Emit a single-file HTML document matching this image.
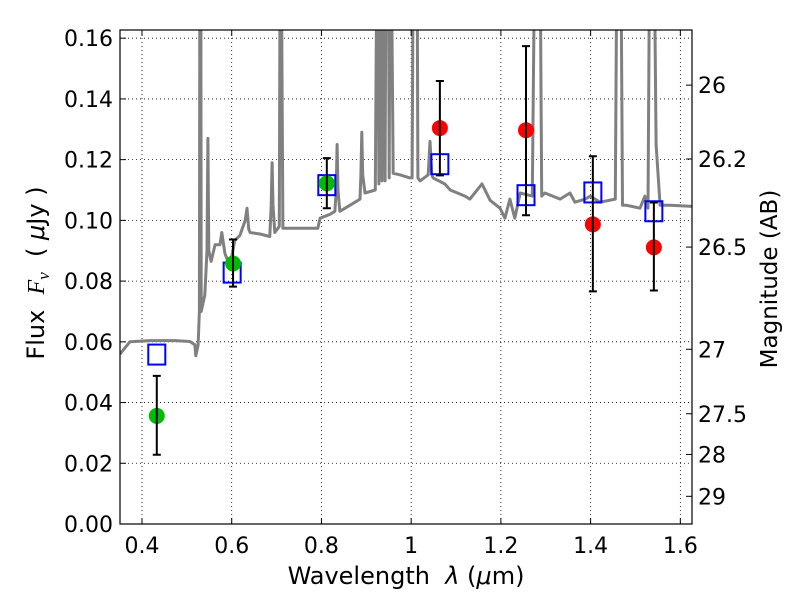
<!DOCTYPE html>
<html><head><meta charset="utf-8"><style>
body{margin:0;background:#fff;}
svg{display:block;font-family:"DejaVu Sans","Liberation Sans",sans-serif;}
</style></head><body>
<svg id="chart" width="800" height="600" xmlns="http://www.w3.org/2000/svg">
<rect width="800" height="600" fill="#fff"/>
<defs><clipPath id="clip"><rect x="120" y="30" width="572" height="494"/></clipPath></defs>
<g id="grid"></g>
<g id="spec" clip-path="url(#clip)"></g>
<g id="marks" clip-path="url(#clip)"></g>
<rect x="120" y="30" width="572" height="494" fill="none" stroke="#000" stroke-width="1.2"/>
<g id="axes"></g>
<text x="406" y="584" font-size="24" text-anchor="middle">Wavelength&#160;&#160;<tspan font-style="italic">λ</tspan> (<tspan font-style="italic">μ</tspan>m)</text>
<text transform="translate(44,273) rotate(-90)" font-size="24" text-anchor="middle">Flux&#160;&#160;<tspan font-family="Liberation Serif" font-style="italic">F</tspan><tspan font-family="Liberation Serif" font-style="italic" font-size="17" dy="5">ν</tspan><tspan dy="-5">&#160;&#160;( </tspan><tspan font-style="italic">μ</tspan>Jy )</text>
<text transform="translate(777,279) rotate(-90)" font-size="23" text-anchor="middle">Magnitude (AB)</text>
</svg>
<script>
const specLam=[0.351,0.373,0.418,0.474,0.507,0.518,0.520,0.525,0.528,0.529,0.531,0.532,0.540,0.545,0.547,0.549,0.554,0.563,0.574,0.578,0.585,0.596,0.607,0.618,0.630,0.634,0.638,0.641,0.663,0.685,0.688,0.690,0.692,0.696,0.706,0.708,0.710,0.714,0.752,0.792,0.797,0.819,0.830,0.833,0.835,0.837,0.841,0.864,0.886,0.888,0.890,0.892,0.897,0.920,0.924,0.926,0.928,0.931,0.933,0.935,0.937,0.940,0.942,0.944,0.949,0.951,0.953,0.955,0.960,0.975,0.997,1.002,1.005,1.009,1.013,1.015,1.020,1.038,1.042,1.046,1.049,1.075,1.087,1.120,1.131,1.158,1.176,1.198,1.209,1.220,1.231,1.243,1.270,1.276,1.281,1.287,1.291,1.298,1.332,1.354,1.365,1.388,1.399,1.421,1.455,1.459,1.463,1.467,1.471,1.479,1.510,1.521,1.528,1.532,1.536,1.541,1.546,1.550,1.555,1.577,1.626];
const specFlux=[0.056,0.060,0.0604,0.0604,0.0601,0.059,0.0554,0.059,0.07,0.2,0.2,0.07,0.0754,0.09,0.127,0.09,0.0865,0.092,0.092,0.096,0.089,0.085,0.0934,0.095,0.100,0.104,0.097,0.096,0.0955,0.0947,0.105,0.119,0.105,0.096,0.098,0.2,0.2,0.0974,0.0974,0.0974,0.1007,0.102,0.103,0.110,0.125,0.110,0.103,0.105,0.107,0.115,0.129,0.115,0.109,0.110,0.2,0.2,0.112,0.2,0.2,0.113,0.2,0.2,0.113,0.2,0.2,0.114,0.2,0.2,0.1155,0.115,0.114,0.114,0.2,0.2,0.2,0.114,0.113,0.115,0.126,0.115,0.114,0.112,0.110,0.108,0.107,0.112,0.1066,0.104,0.1007,0.107,0.1007,0.109,0.108,0.2,0.2,0.2,0.108,0.109,0.107,0.109,0.106,0.107,0.108,0.106,0.107,0.2,0.2,0.2,0.105,0.105,0.104,0.108,0.104,0.2,0.2,0.2,0.125,0.116,0.105,0.105,0.1046];
const modelLam=[0.433,0.601,0.812,1.064,1.256,1.405,1.541];
const modelFlux=[0.0558,0.0828,0.1116,0.1185,0.1083,0.1092,0.103];
const greenLam=[0.433,0.603,0.812];
const greenFlux=[0.0356,0.0858,0.1122];
const greenHi=[0.0488,0.0937,0.1205];
const greenLo=[0.0228,0.0782,0.104];
const redLam=[1.064,1.256,1.405,1.541];
const redFlux=[0.1304,0.1297,0.0987,0.0911];
const redHi=[0.1459,0.1574,0.1211,0.1059];
const redLo=[0.1148,0.1017,0.0766,0.0769];
const xTicks=[0.4,0.6,0.8,1.0,1.2,1.4,1.6];
const xTickLabels=["0.4","0.6","0.8","1","1.2","1.4","1.6"];
const yTicks=[0,0.02,0.04,0.06,0.08,0.10,0.12,0.14,0.16];
const yTickLabels=["0.00","0.02","0.04","0.06","0.08","0.10","0.12","0.14","0.16"];
const magTicks=[26,26.2,26.5,27,27.5,28,29];
const magTickLabels=["26","26.2","26.5","27","27.5","28","29"];

const X0=120,X1=692,Y0=524,Y1=30,LMIN=0.351,LMAX=1.626,FMIN=0,FMAX=0.1627;
const xs=l=>X0+(l-LMIN)/(LMAX-LMIN)*(X1-X0);
const ys=f=>Y0-(f-FMIN)/(FMAX-FMIN)*(Y0-Y1);
const magToFlux=m=>Math.pow(10,-0.4*(m-23.9));
const NS='http://www.w3.org/2000/svg';
function mk(tag,attrs,parent){const e=document.createElementNS(NS,tag);for(const k in attrs)e.setAttribute(k,attrs[k]);parent.appendChild(e);return e;}
const grid=document.getElementById('grid'),axes=document.getElementById('axes'),spec=document.getElementById('spec'),marks=document.getElementById('marks');

xTicks.forEach((t,i)=>{const x=xs(t);
 let g=mk('line',{x1:x,x2:x,y1:Y1,y2:Y0,stroke:'#000','stroke-width':0.8,'stroke-dasharray':'1,3'},grid);
 
 let a=mk('line',{x1:x,x2:x,y1:Y0,y2:Y0-6,stroke:'#000','stroke-width':1},axes);
 
 let b=mk('line',{x1:x,x2:x,y1:Y1,y2:Y1+6,stroke:'#000','stroke-width':1},axes);
 
 let tx=mk('text',{x:x,y:553,'font-size':22,'text-anchor':'middle'},axes);tx.textContent=xTickLabels[i];
 
});
yTicks.forEach((t,i)=>{const y=ys(t);
 if(i>0){let g=mk('line',{x1:X0,x2:X1,y1:y,y2:y,stroke:'#000','stroke-width':0.8,'stroke-dasharray':'1,3'},grid);
 }
 let a=mk('line',{x1:X0,x2:X0+6,y1:y,y2:y,stroke:'#000','stroke-width':1},axes);
 
 let tx=mk('text',{x:113,y:y+8,'font-size':22,'text-anchor':'end'},axes);tx.textContent=yTickLabels[i];
 
});
magTicks.forEach((m,i)=>{const y=ys(magToFlux(m));
 let a=mk('line',{x1:X1,x2:X1-6,y1:y,y2:y,stroke:'#000','stroke-width':1},axes);
 
 let tx=mk('text',{x:698,y:y+8,'font-size':22},axes);tx.textContent=magTickLabels[i];
 
});
let d=specLam.map((l,i)=>(i?'L':'M')+xs(l).toFixed(1)+','+ys(specFlux[i]).toFixed(1)).join('');
let sp=mk('path',{d:d,fill:'none',stroke:'#808080','stroke-width':3,'stroke-linejoin':'round'},spec);

modelLam.forEach((l,i)=>{
 let r=mk('rect',{x:xs(l)-8.5,y:ys(modelFlux[i])-10,width:17,height:20,fill:'none',stroke:'#0000ff','stroke-width':2},marks);
 
});
function errs(lams,hi,lo,name){lams.forEach((l,i)=>{const x=xs(l);
 let e=mk('path',{d:`M${x},${ys(hi[i])}V${ys(lo[i])}M${x-4},${ys(hi[i])}H${x+4}M${x-4},${ys(lo[i])}H${x+4}`,stroke:'#000','stroke-width':2,fill:'none'},marks);
 });}
function dots(lams,fl,col,name){lams.forEach((l,i)=>{
 let c=mk('circle',{cx:xs(l),cy:ys(fl[i]),r:8,fill:col},marks);
 });}
dots(greenLam,greenFlux,'#00bb00','optical-flux-point');
dots(redLam,redFlux,'#ff0000','nir-flux-point');
errs(greenLam,greenHi,greenLo,'optical-error-bar');
errs(redLam,redHi,redLo,'nir-error-bar');
</script>
</body></html>
